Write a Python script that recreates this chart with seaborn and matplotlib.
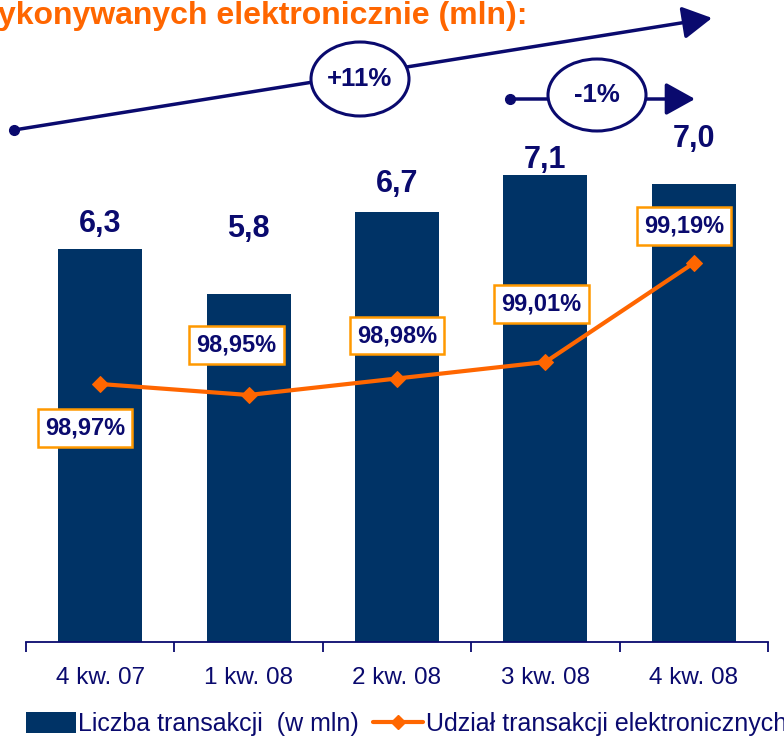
import matplotlib
matplotlib.use("Agg")
import matplotlib.pyplot as plt
import seaborn as sns
import pandas as pd
from matplotlib.patches import Ellipse, Patch
from matplotlib.lines import Line2D

# ---- data ----
categories = ["4 kw. 07", "1 kw. 08", "2 kw. 08", "3 kw. 08", "4 kw. 08"]
transactions = [6.3, 5.8, 6.7, 7.1, 7.0]
bar_labels = ["6,3", "5,8", "6,7", "7,1", "7,0"]
electronic_share = [98.97, 98.95, 98.98, 99.01, 99.19]
share_labels = ["98,97%", "98,95%", "98,98%", "99,01%", "99,19%"]
title_text = "ykonywanych elektronicznie (mln):"
legend_bar = "Liczba transakcji  (w mln)"
legend_line = "Udział transakcji elektronicznych"
growth_total = "+11%"
growth_last = "-1%"

BAR = "#003366"
TXT = "#0a0a6e"
ORANGE = "#FF6600"
BOX = "#FF9900"

sns.set_theme(style="white")
plt.rcParams["font.family"] = ["Liberation Sans", "DejaVu Sans"]

W, H = 784, 741
fig = plt.figure(figsize=(W / 100, H / 100), dpi=100)

def fx(px):
    return px / W

def fy(py):
    return 1 - py / H

ax = fig.add_axes([fx(26), fy(642), fx(768) - fx(26), fy(0) - fy(642)])
df = pd.DataFrame({"cat": categories, "val": transactions})
sns.barplot(data=df, x="cat", y="val", color=BAR, width=0.565, ax=ax,
            saturation=1, edgecolor="none")
ax.set_xlim(-0.5, 4.5)
ax.set_ylim(2.0, 2.0 + 642 / 91.5)
ax.set_xlabel("")
ax.set_ylabel("")
ax.set_yticks([])
for s in ["top", "right", "left"]:
    ax.spines[s].set_visible(False)
ax.spines["bottom"].set_color(TXT)
ax.spines["bottom"].set_linewidth(1.3)
ax.set_xticks(range(len(categories)))
ax.set_xticklabels(categories, fontsize=17.5, color=TXT)
ax.tick_params(axis="x", length=0, pad=18)
ax.set_xticks([i - 0.5 for i in range(len(categories) + 1)], minor=True)
ax.tick_params(axis="x", which="minor", length=7, width=1.3, color=TXT, bottom=True)
ax.set_facecolor("white")

# bar value labels
label_offsets = [25, 65, 28, 15, 45]
for i, (v, lab) in enumerate(zip(transactions, bar_labels)):
    ax.annotate(lab, (i, v), xytext=(0, label_offsets[i]), textcoords="offset pixels",
                ha="center", va="center", fontsize=22, fontweight="bold", color=TXT)

# secondary axis line
ax2 = ax.twinx()
lo = 98.95 - 247 / 550
ax2.set_ylim(lo, lo + 642 / 550)
sns.lineplot(x=list(range(len(categories))), y=electronic_share, ax=ax2, color=ORANGE,
             linewidth=3, marker="D", markersize=8, markeredgecolor=ORANGE, legend=False)
ax2.set_yticks([])
ax2.set_xlim(-0.5, 4.5)
for s in ["top", "right", "left", "bottom"]:
    ax2.spines[s].set_visible(False)

box_offsets = [(-15, -44), (-12, 50), (0, 43), (-4, 58), (-10, 37)]
for i, (v, lab) in enumerate(zip(electronic_share, share_labels)):
    dx, dy = box_offsets[i]
    ax2.annotate(lab, (i, v), xytext=(dx, dy), textcoords="offset pixels",
                 ha="center", va="center", fontsize=17, fontweight="bold", color=TXT,
                 bbox=dict(boxstyle="square,pad=0.3", fc="white", ec=BOX, lw=1.8))

# title (partially cut off on the left, as in the original slide)
fig.text(fx(-2), fy(16), title_text, fontsize=23, fontweight="bold", color=ORANGE,
         ha="left", va="center")

# growth arrows
def arrow(x0, y0, x1, y1):
    fig.add_artist(plt.Line2D([fx(x0)], [fy(y0)], marker="o", markersize=7,
                              color=TXT, transform=fig.transFigure))
    a = matplotlib.patches.FancyArrowPatch((fx(x0), fy(y0)), (fx(x1), fy(y1)),
                                           transform=fig.transFigure,
                                           arrowstyle="-|>,head_length=9,head_width=5",
                                           mutation_scale=2, color=TXT, lw=2.5,
                                           shrinkA=0, shrinkB=0)
    fig.add_artist(a)

def bubble(cx, cy, w, h, text):
    e = Ellipse((fx(cx), fy(cy)), fx(w), h / H, transform=fig.transFigure,
                fc="white", ec=TXT, lw=2.2, zorder=5)
    fig.add_artist(e)
    fig.text(fx(cx), fy(cy), text, ha="center", va="center", fontsize=18.5,
             fontweight="bold", color=TXT, zorder=6)

arrow(14, 130, 712, 18)
bubble(360, 79, 98, 74, growth_total)
arrow(510, 99, 695, 99)
bubble(597, 95, 98, 72, growth_last)

# legend
handles = [Patch(facecolor=BAR, edgecolor="none", label=legend_bar),
           Line2D([0], [0], color=ORANGE, lw=3, marker="D", markersize=7, label=legend_line)]
fig.legend(handles=handles, loc="center left", bbox_to_anchor=(fx(26), fy(724)),
           ncol=2, frameon=False, fontsize=18, labelcolor=TXT, handlelength=2.0,
           handleheight=0.9, handletextpad=0.1, columnspacing=0.55, borderaxespad=0,
           borderpad=0)

fig.savefig("out.png", dpi=100)
